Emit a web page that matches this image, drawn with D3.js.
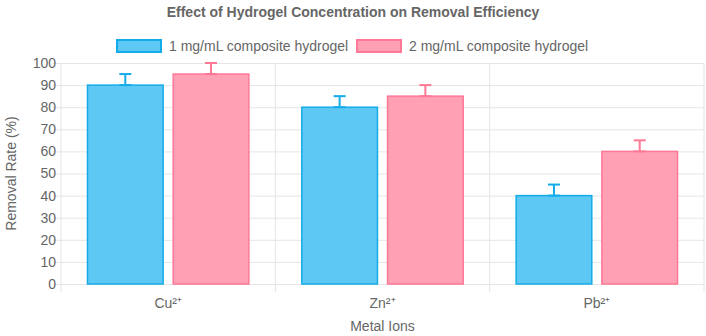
<!DOCTYPE html>
<html>
<head>
<meta charset="utf-8">
<script src="https://cdn.jsdelivr.net/npm/d3@7"></script>
<style>
  html, body { margin: 0; padding: 0; background: #fff; }
  svg { display: block; font-family: "Liberation Sans", Arial, Helvetica, sans-serif; }
</style>
</head>
<body>
<svg id="chart" width="706" height="336"></svg>
<script>
const categories = ["Cu²⁺", "Zn²⁺", "Pb²⁺"];
const seriesNames = ["1 mg/mL composite hydrogel", "2 mg/mL composite hydrogel"];
const series1 = [90, 80, 40];
const series2 = [95, 85, 60];
const errors1 = [5, 5, 5];
const errors2 = [5, 5, 5];
const yTicks = [0, 10, 20, 30, 40, 50, 60, 70, 80, 90, 100];

const fills = ["rgb(94,200,245)", "rgb(255,160,180)"];
const strokes = ["rgb(20,172,232)", "rgb(255,120,150)"];

const svg = d3.select("#chart");
const W = 706, H = 336;
const m = { left: 61, right: 2, top: 63, bottom: 52 };
const plotR = W - m.right, plotB = H - m.bottom;

const x = d3.scaleBand().domain(categories).range([m.left, plotR]).paddingInner(0).paddingOuter(0);
const y = d3.scaleLinear().domain([0, 100]).range([plotB, m.top]);
const groupKeys = [0, 1];
const xi = d3.scaleBand().domain(groupKeys).range([0, x.bandwidth()]).paddingInner(0).paddingOuter(0.25);

const gridColor = "#e5e5e5";
const textColor = "#666";

// Horizontal grid + tick marks
const yAxis = d3.axisLeft(y).tickValues(yTicks).tickSize(-(plotR - m.left)).tickPadding(14);
const gy = svg.append("g").attr("transform", `translate(${m.left},0)`).call(yAxis);
gy.select(".domain").remove();
gy.selectAll(".tick line").attr("stroke", gridColor).attr("x1", -8);
gy.selectAll(".tick text").attr("fill", textColor).attr("font-size", 14).attr("x", -5);

// Vertical grid lines at band edges
const edges = categories.map(c => x(c)).concat([x(categories[categories.length - 1]) + x.bandwidth()]);
svg.append("g").selectAll("line").data(edges).join("line")
  .attr("x1", d => d).attr("x2", d => d)
  .attr("y1", m.top).attr("y2", plotB + 8)
  .attr("stroke", gridColor);

// X axis ticks labels
const xAxis = d3.axisBottom(x).tickSize(0).tickPadding(14);
const gx = svg.append("g").attr("transform", `translate(0,${plotB})`).call(xAxis);
gx.select(".domain").remove();
gx.selectAll(".tick text").attr("fill", textColor).attr("font-size", 14);

// Bars
const data = categories.map((c, i) => ({
  cat: c,
  vals: [
    { k: 0, v: series1[i], e: errors1[i] },
    { k: 1, v: series2[i], e: errors2[i] }
  ]
}));

const groups = svg.append("g").selectAll("g").data(data).join("g")
  .attr("transform", d => `translate(${x(d.cat)},0)`);

const bw = xi.bandwidth() * 0.9;
const off = (xi.bandwidth() - bw) / 2;

groups.selectAll("rect").data(d => d.vals).join("rect")
  .attr("x", d => xi(d.k) + off + 0.75)
  .attr("y", d => y(d.v))
  .attr("width", bw - 1.5)
  .attr("height", d => plotB - y(d.v))
  .attr("fill", d => fills[d.k])
  .attr("stroke", d => strokes[d.k])
  .attr("stroke-width", 1.5);

// Error bars (upper)
const eb = groups.selectAll("g.err").data(d => d.vals).join("g").attr("class", "err");
const cap = 6;
eb.append("line")
  .attr("x1", d => xi(d.k) + xi.bandwidth() / 2).attr("x2", d => xi(d.k) + xi.bandwidth() / 2)
  .attr("y1", d => y(d.v)).attr("y2", d => y(d.v + d.e))
  .attr("stroke", d => strokes[d.k]).attr("stroke-width", 2);
eb.append("line")
  .attr("x1", d => xi(d.k) + xi.bandwidth() / 2 - cap).attr("x2", d => xi(d.k) + xi.bandwidth() / 2 + cap)
  .attr("y1", d => y(d.v + d.e)).attr("y2", d => y(d.v + d.e))
  .attr("stroke", d => strokes[d.k]).attr("stroke-width", 2);
eb.append("line")
  .attr("x1", d => xi(d.k) + xi.bandwidth() / 2 - cap).attr("x2", d => xi(d.k) + xi.bandwidth() / 2 + cap)
  .attr("y1", d => y(d.v)).attr("y2", d => y(d.v))
  .attr("stroke", d => strokes[d.k]).attr("stroke-width", 2);

// Title
svg.append("text").attr("x", W / 2).attr("y", 17).attr("text-anchor", "middle")
  .attr("font-size", 14).attr("font-weight", "bold").attr("fill", textColor)
  .text("Effect of Hydrogel Concentration on Removal Efficiency");

// Legend
const legendX = [117, 357];
const lg = svg.append("g").selectAll("g").data(seriesNames).join("g")
  .attr("transform", (d, i) => `translate(${legendX[i]},40)`);
lg.append("rect").attr("width", 44).attr("height", 12)
  .attr("fill", (d, i) => fills[i]).attr("stroke", (d, i) => strokes[i]).attr("stroke-width", 2);
lg.append("text").attr("x", 52).attr("y", 6).attr("dy", "0.35em")
  .attr("font-size", 14).attr("fill", textColor).text(d => d);

// Axis titles
svg.append("text").attr("x", (m.left + plotR) / 2).attr("y", 331).attr("text-anchor", "middle")
  .attr("font-size", 14).attr("fill", textColor).text("Metal Ions");
svg.append("text").attr("transform", `translate(16,${(m.top + plotB) / 2}) rotate(-90)`)
  .attr("text-anchor", "middle").attr("font-size", 14).attr("fill", textColor)
  .text("Removal Rate (%)");
</script>
</body>
</html>
